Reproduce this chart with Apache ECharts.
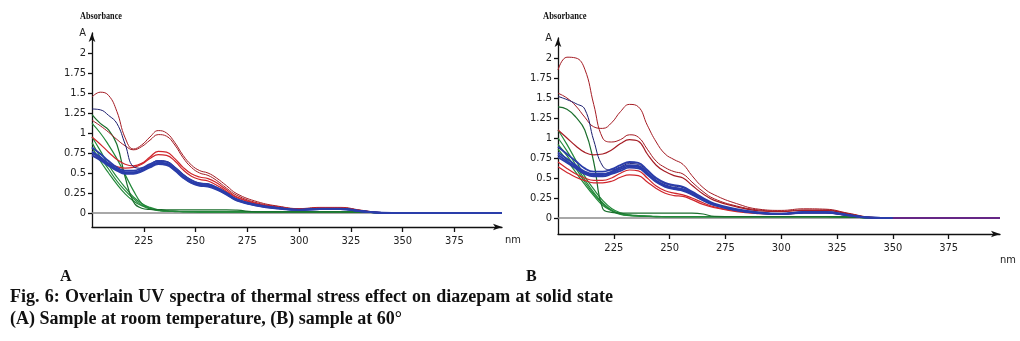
<!DOCTYPE html>
<html>
<head>
<meta charset="utf-8">
<script src="https://cdn.jsdelivr.net/npm/echarts@6/dist/echarts.min.js"></script>
<style>
  html, body { margin: 0; padding: 0; background: #fff; }
  #chart { width: 1020px; height: 341px; }
</style>
</head>
<body>
<div id="chart"></div>
<script>
// Wavelength grid (nm) shared by every spectrum
const nm = [200,204,208,212,216,220,224,228,232,236,240,244,248,252,256,260,265,270,280,290,300,310,320,330,340,350,398];

const xTicks = [225,250,275,300,325,350,375];
const yTicks = [0,0.25,0.5,0.75,1,1.25,1.5,1.75,2];

// (A) sample at room temperature
const aRed1  = [1.45,1.51,1.47,1.27,0.94,0.80,0.85,0.95,1.03,1.00,0.88,0.72,0.60,0.53,0.50,0.44,0.34,0.24,0.14,0.085,0.055,0.07,0.07,0.035,0.005,0,0];
const aRed2  = [1.16,1.09,1.01,0.92,0.84,0.79,0.83,0.91,0.98,0.96,0.85,0.69,0.57,0.50,0.47,0.41,0.31,0.22,0.125,0.08,0.05,0.065,0.065,0.03,0.005,0,0];
const aRed3  = [0.95,0.86,0.76,0.67,0.61,0.59,0.62,0.70,0.77,0.76,0.68,0.57,0.49,0.45,0.43,0.38,0.29,0.20,0.115,0.075,0.048,0.062,0.062,0.03,0.004,0,0];
const aRed4  = [0.72,0.67,0.62,0.58,0.56,0.57,0.61,0.68,0.73,0.72,0.65,0.54,0.46,0.42,0.40,0.35,0.27,0.19,0.11,0.07,0.045,0.06,0.06,0.028,0.003,0,0];
const aBlue1 = [0.82,0.74,0.65,0.57,0.53,0.53,0.56,0.61,0.65,0.64,0.57,0.48,0.41,0.37,0.36,0.32,0.25,0.17,0.10,0.065,0.042,0.055,0.055,0.025,0.003,0,0];
const aBlue2 = [0.77,0.70,0.62,0.55,0.51,0.51,0.54,0.59,0.63,0.62,0.55,0.46,0.39,0.355,0.345,0.31,0.24,0.165,0.095,0.06,0.04,0.05,0.05,0.022,0.002,0,0];
const aBlue3 = [0.72,0.66,0.59,0.53,0.49,0.49,0.52,0.57,0.61,0.60,0.53,0.44,0.375,0.34,0.33,0.295,0.23,0.155,0.09,0.055,0.038,0.048,0.048,0.02,0.002,0,0];
const aBlue4 = [0.75,0.68,0.60,0.54,0.50,0.50,0.53,0.58,0.62,0.61,0.54,0.45,0.38,0.35,0.34,0.30,0.235,0.16,0.092,0.058,0.039,0.049,0.049,0.021,0.002,0,0];
const aNavy  = [1.30,1.29,1.22,1.12,0.86,0.58,0.56,0.61,0.655,0.645,0.575,0.485,0.415,0.375,0.365,0.325,0.255,0.175,0.10,0.065,0.042,0.055,0.055,0.025,0.003,0,0];
const aGreen1 = [1.23,1.12,1.04,0.86,0.45,0.14,0.06,0.045,0.042,0.04,0.04,0.04,0.04,0.04,0.04,0.04,0.04,0.035,0.015,0.015,0.015,0.015,0.015,0.012,0.004,0,0];
const aGreen2 = [1.12,1.00,0.85,0.68,0.48,0.28,0.12,0.06,0.035,0.025,0.02,0.018,0.016,0.015,0.015,0.015,0.015,0.015,0.015,0.015,0.015,0.015,0.015,0.012,0.004,0,0];
const aGreen3 = [0.95,0.78,0.60,0.45,0.32,0.20,0.12,0.07,0.04,0.028,0.022,0.018,0.016,0.015,0.015,0.015,0.015,0.015,0.015,0.015,0.015,0.015,0.015,0.012,0.004,0,0];
const aGreen4 = [0.88,0.70,0.55,0.40,0.28,0.18,0.10,0.06,0.035,0.025,0.02,0.018,0.016,0.015,0.015,0.015,0.015,0.015,0.015,0.015,0.015,0.015,0.015,0.012,0.004,0,0];
const aGreen5 = [0.82,0.65,0.50,0.36,0.24,0.15,0.09,0.05,0.03,0.022,0.018,0.016,0.015,0.015,0.015,0.015,0.015,0.015,0.015,0.015,0.015,0.015,0.015,0.012,0.004,0,0];
const aBase  = [0,0,0,0,0,0,0,0,0,0,0,0,0,0,0,0,0,0,0,0,0,0,0,0,0,0,0];

// (B) sample at 60°
const bRed1  = [1.85,2.01,2.00,1.86,1.42,1.00,0.95,0.98,1.04,1.01,0.86,0.71,0.63,0.58,0.55,0.45,0.33,0.24,0.15,0.10,0.085,0.10,0.10,0.055,0.008,0,0];
const bRed2  = [1.56,1.50,1.40,1.26,1.14,1.12,1.19,1.33,1.42,1.39,1.16,0.95,0.80,0.73,0.67,0.53,0.38,0.29,0.18,0.11,0.095,0.115,0.11,0.06,0.01,0,0];
const bRed3  = [1.10,1.00,0.90,0.82,0.79,0.80,0.85,0.93,0.98,0.96,0.80,0.66,0.58,0.53,0.50,0.41,0.30,0.22,0.14,0.09,0.08,0.095,0.095,0.05,0.007,0,0];
const bRed4  = [0.70,0.62,0.55,0.50,0.47,0.47,0.50,0.56,0.60,0.59,0.50,0.40,0.34,0.31,0.29,0.25,0.19,0.14,0.09,0.06,0.05,0.07,0.07,0.035,0.005,0,0];
const bRed5  = [0.64,0.57,0.51,0.47,0.44,0.44,0.46,0.51,0.54,0.53,0.45,0.37,0.31,0.28,0.27,0.23,0.17,0.13,0.08,0.055,0.045,0.065,0.065,0.03,0.004,0,0];
const bBlue1 = [0.89,0.80,0.71,0.62,0.58,0.58,0.61,0.66,0.70,0.69,0.60,0.50,0.44,0.41,0.39,0.33,0.25,0.18,0.11,0.07,0.055,0.075,0.075,0.04,0.005,0,0];
const bBlue2 = [0.82,0.74,0.66,0.58,0.55,0.55,0.58,0.63,0.66,0.65,0.57,0.47,0.41,0.38,0.36,0.31,0.23,0.17,0.10,0.065,0.05,0.07,0.07,0.035,0.004,0,0];
const bBlue3 = [0.76,0.69,0.62,0.55,0.52,0.52,0.55,0.59,0.63,0.62,0.54,0.45,0.39,0.36,0.34,0.29,0.22,0.16,0.095,0.06,0.048,0.065,0.065,0.032,0.004,0,0];
const bBlue4 = [0.79,0.71,0.64,0.565,0.535,0.535,0.565,0.61,0.645,0.635,0.555,0.46,0.40,0.37,0.35,0.30,0.225,0.165,0.098,0.062,0.049,0.068,0.068,0.034,0.004,0,0];
const bNavy  = [1.52,1.48,1.43,1.36,0.97,0.65,0.60,0.64,0.68,0.67,0.59,0.49,0.43,0.40,0.38,0.32,0.24,0.175,0.105,0.068,0.052,0.072,0.072,0.038,0.005,0,0];
const bGreen1 = [1.39,1.36,1.26,1.10,0.70,0.12,0.07,0.06,0.06,0.06,0.06,0.06,0.06,0.06,0.06,0.06,0.05,0.02,0.016,0.016,0.016,0.016,0.016,0.012,0.004,0,0];
const bGreen2 = [1.10,0.92,0.72,0.52,0.36,0.22,0.12,0.065,0.04,0.03,0.025,0.02,0.018,0.016,0.016,0.016,0.016,0.016,0.016,0.016,0.016,0.016,0.016,0.012,0.004,0,0];
const bGreen3 = [1.00,0.84,0.66,0.48,0.32,0.19,0.10,0.055,0.035,0.028,0.022,0.018,0.017,0.016,0.016,0.016,0.016,0.016,0.016,0.016,0.016,0.016,0.016,0.012,0.004,0,0];
const bGreen4 = [0.92,0.78,0.62,0.45,0.30,0.18,0.095,0.05,0.032,0.025,0.02,0.018,0.016,0.016,0.016,0.016,0.016,0.016,0.016,0.016,0.016,0.016,0.016,0.012,0.004,0,0];
const bGreen5 = [0.86,0.72,0.57,0.42,0.28,0.16,0.09,0.045,0.03,0.024,0.02,0.018,0.016,0.016,0.016,0.016,0.016,0.016,0.016,0.016,0.016,0.016,0.016,0.012,0.004,0,0];
const bBase  = [0,0,0,0,0,0,0,0,0,0,0,0,0,0,0,0,0,0,0,0,0,0,0,0,0,0,0];
const bTail  = [null,null,null,null,null,null,null,null,null,null,null,null,null,null,null,null,null,null,null,null,null,null,null,null,null,0,0];

const caption1 = 'Fig. 6: Overlain UV spectra of thermal stress effect on diazepam at solid state';
const caption2 = '(A) Sample at room temperature, (B) sample at 60°';

const C = {
  red: '#d0262c', darkRed: '#a51c24', blue: '#2a3daa', navy: '#1b1d6e',
  green: '#23893a', darkGreen: '#1a6e2c', gray: '#8c8c8c', purple: '#7a1f7a'
};

const tickFont = "'Liberation Sans Narrow', 'DejaVu Sans Condensed', 'Arial Narrow', sans-serif";
const serifFamily = "'Liberation Serif', 'DejaVu Serif', serif";

function spectrum(panel, values, color, width, z) {
  return {
    type: 'line',
    xAxisIndex: panel,
    yAxisIndex: panel,
    data: nm.map((w, i) => [w, values[i]]),
    showSymbol: false,
    smooth: 0.45,
    connectNulls: false,
    lineStyle: { color: color, width: width },
    z: z,
    silent: true,
    animation: false
  };
}

function xAxisFor(panel) {
  return {
    type: 'value', gridIndex: panel, min: 200, max: 398,
    axisLine: { onZero: false, symbol: ['none', 'arrow'], symbolSize: [5, 9],
                lineStyle: { color: '#111', width: 1.3 } },
    axisTick: { customValues: xTicks, length: 5, lineStyle: { color: '#111', width: 1.3 } },
    axisLabel: { customValues: xTicks, margin: 9, fontFamily: tickFont, fontSize: 11, color: '#222' },
    splitLine: { show: false }
  };
}

function yAxisFor(panel, min) {
  return {
    type: 'value', gridIndex: panel, min: min, max: 2.25,
    axisLine: { onZero: false, symbol: ['none', 'arrow'], symbolSize: [5, 9],
                lineStyle: { color: '#111', width: 1.3 } },
    axisTick: { customValues: yTicks, length: 4, lineStyle: { color: '#111', width: 1.3 } },
    axisLabel: { customValues: yTicks.concat([2.25]), margin: 6, fontFamily: tickFont, fontSize: 11, color: '#222',
                 formatter: v => (v === 2.25 ? 'A' : String(v)) },
    splitLine: { show: false }
  };
}

const series = [
  spectrum(0, aBase, C.gray, 1.5, 1),
  spectrum(0, aGreen5, C.green, 1.2, 2),
  spectrum(0, aGreen4, C.green, 1.2, 2),
  spectrum(0, aGreen3, C.green, 1.2, 2),
  spectrum(0, aGreen2, C.green, 1.2, 2),
  spectrum(0, aGreen1, C.darkGreen, 1.2, 2),
  spectrum(0, aRed1, C.darkRed, 1, 3),
  spectrum(0, aRed2, C.darkRed, 1, 3),
  spectrum(0, aRed3, C.red, 1.2, 3),
  spectrum(0, aRed4, C.red, 1.2, 3),
  spectrum(0, aNavy, C.navy, 1, 4),
  spectrum(0, aBlue1, C.blue, 1.8, 4),
  spectrum(0, aBlue4, C.blue, 1.8, 4),
  spectrum(0, aBlue2, C.blue, 1.8, 4),
  spectrum(0, aBlue3, C.blue, 1.8, 4),

  spectrum(1, bBase, C.gray, 1.5, 1),
  spectrum(1, bTail, C.purple, 1.6, 5),
  spectrum(1, bGreen5, C.green, 1.2, 2),
  spectrum(1, bGreen4, C.green, 1.2, 2),
  spectrum(1, bGreen3, C.green, 1.2, 2),
  spectrum(1, bGreen2, C.green, 1.2, 2),
  spectrum(1, bGreen1, C.darkGreen, 1.2, 2),
  spectrum(1, bRed1, C.darkRed, 1, 3),
  spectrum(1, bRed2, C.darkRed, 1, 3),
  spectrum(1, bRed3, C.darkRed, 1.2, 3),
  spectrum(1, bRed4, C.red, 1.2, 3),
  spectrum(1, bRed5, C.red, 1.2, 3),
  spectrum(1, bNavy, C.navy, 1, 4),
  spectrum(1, bBlue1, C.blue, 1.8, 4),
  spectrum(1, bBlue4, C.blue, 1.8, 4),
  spectrum(1, bBlue2, C.blue, 1.8, 4),
  spectrum(1, bBlue3, C.blue, 1.8, 4)
];

// Justified first caption line: words spread evenly across the full line width
function justifiedLine(text, left, right, top, size) {
  const ctx = document.createElement('canvas').getContext('2d');
  ctx.font = 'bold ' + size + "px 'Liberation Serif'";
  const words = text.split(' ');
  const widths = words.map(w => ctx.measureText(w).width);
  const total = widths.reduce((a, b) => a + b, 0);
  const gap = Math.max(ctx.measureText(' ').width, (right - left - total) / (words.length - 1));
  let x = left;
  return words.map((w, i) => {
    const el = { type: 'text', x: x, y: top,
                 style: { text: w, fontFamily: serifFamily, fontWeight: 'bold', fontSize: size, fill: '#111' } };
    x += widths[i] + gap;
    return el;
  });
}

const serifBold = { fontFamily: serifFamily, fontWeight: 'bold', fill: '#111' };

const chart = echarts.init(document.getElementById('chart'), null, { renderer: 'canvas' });
chart.setOption({
  backgroundColor: '#fff',
  animation: false,
  grid: [
    { left: 92, top: 33, width: 410, height: 194 },
    { left: 558, top: 38, width: 442, height: 196 }
  ],
  xAxis: [xAxisFor(0), xAxisFor(1)],
  yAxis: [yAxisFor(0, -0.175), yAxisFor(1, -0.2)],
  series: series,
  graphic: [
    { type: 'text', left: 80, top: 11, scaleX: 0.82, style: Object.assign({ text: 'Absorbance', fontSize: 10 }, serifBold) },
    { type: 'text', left: 543, top: 11, scaleX: 0.85, style: Object.assign({ text: 'Absorbance', fontSize: 10 }, serifBold) },
    { type: 'text', left: 505, top: 235, style: { text: 'nm', fontFamily: tickFont, fontSize: 11, fill: '#222' } },
    { type: 'text', left: 1000, top: 255, style: { text: 'nm', fontFamily: tickFont, fontSize: 11, fill: '#222' } },
    { type: 'text', left: 60, top: 269, style: Object.assign({ text: 'A', fontSize: 16 }, serifBold) },
    { type: 'text', left: 526, top: 269, style: Object.assign({ text: 'B', fontSize: 16 }, serifBold) },
    { type: 'text', left: 10, top: 310, style: Object.assign({ text: caption2, fontSize: 18 }, serifBold) }
  ].concat(justifiedLine(caption1, 10, 613, 288, 18))
});
</script>
</body>
</html>
